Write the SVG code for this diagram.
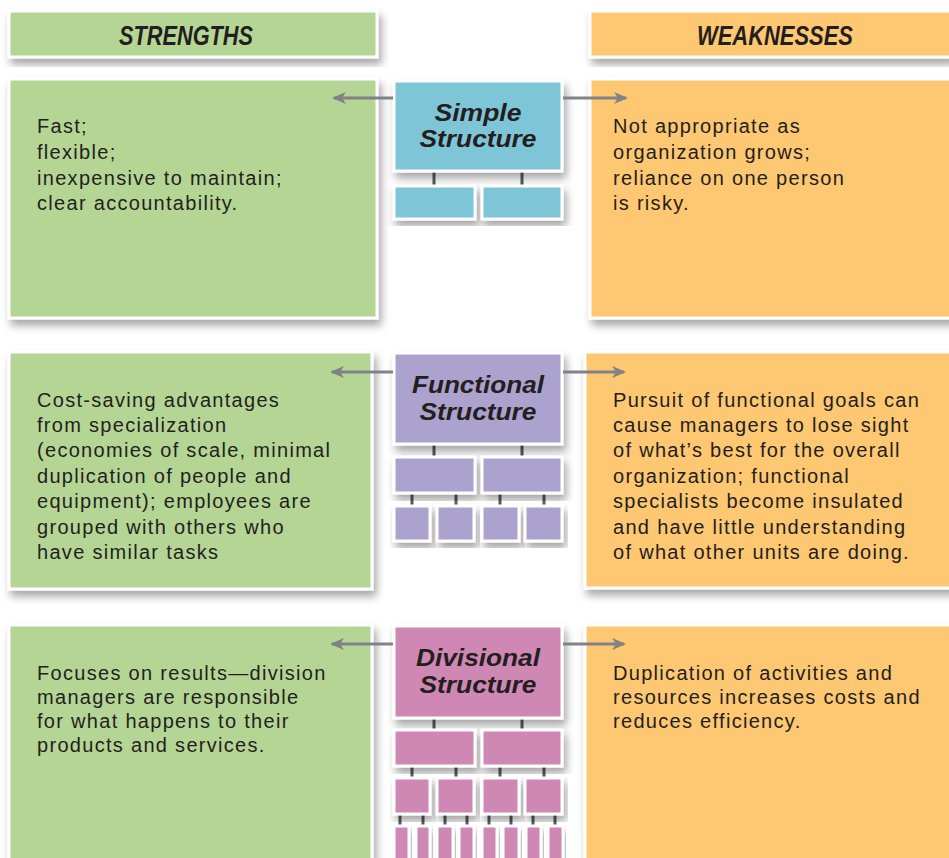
<svg xmlns="http://www.w3.org/2000/svg" width="949" height="858" viewBox="0 0 949 858">
<style>
.g{fill:#b5d595}
.o{fill:#fec771}
.b{fill:#7ec5d8}
.p{fill:#aba2cd}
.m{fill:#cf88b4}
.box{stroke:#ffffff;stroke-width:3;filter:url(#sh)}
.hd{font-family:"Liberation Sans",Arial,sans-serif;font-weight:bold;font-style:italic;font-size:27px;fill:#231f20;text-anchor:middle}
.ti{font-family:"Liberation Sans",Arial,sans-serif;font-weight:bold;font-style:italic;font-size:24px;fill:#231f20;text-anchor:middle}
.tx{font-family:"Liberation Sans",Arial,sans-serif;font-size:20px;fill:#231f20;letter-spacing:1.3px}
.tk{stroke:#58595b;stroke-width:3}
.ar{stroke:#808285;stroke-width:3;fill:none}
</style>
<defs>
<filter id="sh" x="-10%" y="-10%" width="125%" height="130%">
<feDropShadow dx="3" dy="6" stdDeviation="4" flood-color="#000" flood-opacity="0.35"/>
</filter>
<marker id="ah" markerWidth="14" markerHeight="12" refX="12" refY="6" orient="auto" markerUnits="userSpaceOnUse">
<path d="M0,0 L14,6 L0,12 L4,6 Z" fill="#808285"/>
</marker>
</defs>
<rect width="949" height="858" fill="#ffffff"/>

<g id="header-strengths">
<rect class="box g" x="9" y="11" width="368" height="46"/>
<text class="hd" x="186" y="45" textLength="134" lengthAdjust="spacingAndGlyphs">STRENGTHS</text>
</g>
<g id="header-weaknesses">
<rect class="box o" x="590" y="11" width="362" height="46"/>
<text class="hd" x="775" y="45" textLength="156" lengthAdjust="spacingAndGlyphs">WEAKNESSES</text>
</g>

<g id="simple-strengths">
<rect class="box g" x="9" y="79" width="368" height="239"/>
<text class="tx" x="37" y="133">Fast;</text>
<text class="tx" x="37" y="159">flexible;</text>
<text class="tx" x="37" y="185">inexpensive to maintain;</text>
<text class="tx" x="37" y="210">clear accountability.</text>
</g>
<g id="simple-weaknesses">
<rect class="box o" x="590" y="79" width="362" height="239"/>
<text class="tx" x="613" y="133">Not appropriate as</text>
<text class="tx" x="613" y="159">organization grows;</text>
<text class="tx" x="613" y="185">reliance on one person</text>
<text class="tx" x="613" y="210">is risky.</text>
</g>
<g id="simple-structure">
<path class="tk" d="M434,171V186M522,171V186"/>
<rect class="box b" x="394" y="81" width="168" height="90"/>
<rect class="box b" x="394" y="186" width="81" height="33"/>
<rect class="box b" x="482" y="186" width="80" height="33"/>
<text class="ti" x="478" y="121" textLength="87" lengthAdjust="spacingAndGlyphs">Simple</text>
<text class="ti" x="478" y="147" textLength="117" lengthAdjust="spacingAndGlyphs">Structure</text>
</g>

<g id="functional-strengths">
<rect class="box g" x="9" y="352" width="363" height="237"/>
<text class="tx" x="37" y="407">Cost-saving advantages</text>
<text class="tx" x="37" y="432">from specialization</text>
<text class="tx" x="37" y="457">(economies of scale, minimal</text>
<text class="tx" x="37" y="483">duplication of people and</text>
<text class="tx" x="37" y="508">equipment); employees are</text>
<text class="tx" x="37" y="534">grouped with others who</text>
<text class="tx" x="37" y="559">have similar tasks</text>
</g>
<g id="functional-weaknesses">
<rect class="box o" x="585" y="352" width="367" height="236"/>
<text class="tx" x="613" y="407">Pursuit of functional goals can</text>
<text class="tx" x="613" y="432">cause managers to lose sight</text>
<text class="tx" x="613" y="457">of what’s best for the overall</text>
<text class="tx" x="613" y="483">organization; functional</text>
<text class="tx" x="613" y="508">specialists become insulated</text>
<text class="tx" x="613" y="534">and have little understanding</text>
<text class="tx" x="613" y="559">of what other units are doing.</text>
</g>
<g id="functional-structure">
<path class="tk" d="M434,444V457M522,444V457M412,493V506M456,493V506M500,493V506M544,493V506"/>
<rect class="box p" x="394" y="353" width="168" height="91"/>
<rect class="box p" x="394" y="457" width="81" height="36"/>
<rect class="box p" x="482" y="457" width="80" height="36"/>
<rect class="box p" x="394" y="506" width="36" height="35"/>
<rect class="box p" x="437" y="506" width="37" height="35"/>
<rect class="box p" x="482" y="506" width="37" height="35"/>
<rect class="box p" x="525" y="506" width="37" height="35"/>
<text class="ti" x="478" y="393" textLength="132" lengthAdjust="spacingAndGlyphs">Functional</text>
<text class="ti" x="478" y="420" textLength="117" lengthAdjust="spacingAndGlyphs">Structure</text>
</g>

<g id="divisional-strengths">
<rect class="box g" x="9" y="625" width="363" height="240"/>
<text class="tx" x="37" y="680">Focuses on results—division</text>
<text class="tx" x="37" y="704">managers are responsible</text>
<text class="tx" x="37" y="728">for what happens to their</text>
<text class="tx" x="37" y="752">products and services.</text>
</g>
<g id="divisional-weaknesses">
<rect class="box o" x="585" y="625" width="367" height="240"/>
<text class="tx" x="613" y="680">Duplication of activities and</text>
<text class="tx" x="613" y="704">resources increases costs and</text>
<text class="tx" x="613" y="728">reduces efficiency.</text>
</g>
<g id="divisional-structure">
<path class="tk" d="M434,718V730M522,718V730M412,766V778M456,766V778M500,766V778M544,766V778M400,814V826M423,814V826M445,814V826M467,814V826M489,814V826M511,814V826M533,814V826M555,814V826"/>
<rect class="box m" x="394" y="626" width="168" height="92"/>
<rect class="box m" x="394" y="730" width="81" height="36"/>
<rect class="box m" x="482" y="730" width="80" height="36"/>
<rect class="box m" x="394" y="778" width="36" height="36"/>
<rect class="box m" x="437" y="778" width="37" height="36"/>
<rect class="box m" x="482" y="778" width="37" height="36"/>
<rect class="box m" x="525" y="778" width="37" height="36"/>
<rect class="box m" x="394" y="826" width="15" height="40"/>
<rect class="box m" x="416" y="826" width="14" height="40"/>
<rect class="box m" x="437" y="826" width="16" height="40"/>
<rect class="box m" x="459" y="826" width="15" height="40"/>
<rect class="box m" x="482" y="826" width="15" height="40"/>
<rect class="box m" x="503" y="826" width="16" height="40"/>
<rect class="box m" x="526" y="826" width="15" height="40"/>
<rect class="box m" x="548" y="826" width="15" height="40"/>
<text class="ti" x="478" y="666" textLength="124" lengthAdjust="spacingAndGlyphs">Divisional</text>
<text class="ti" x="478" y="693" textLength="117" lengthAdjust="spacingAndGlyphs">Structure</text>
</g>

<g id="connectors">
<line class="ar" x1="393" y1="98" x2="334" y2="98" marker-end="url(#ah)"/>
<line class="ar" x1="563" y1="98" x2="626" y2="98" marker-end="url(#ah)"/>
<line class="ar" x1="393" y1="372" x2="332" y2="372" marker-end="url(#ah)"/>
<line class="ar" x1="563" y1="372" x2="624" y2="372" marker-end="url(#ah)"/>
<line class="ar" x1="393" y1="644" x2="332" y2="644" marker-end="url(#ah)"/>
<line class="ar" x1="563" y1="644" x2="624" y2="644" marker-end="url(#ah)"/>
</g>
</svg>
